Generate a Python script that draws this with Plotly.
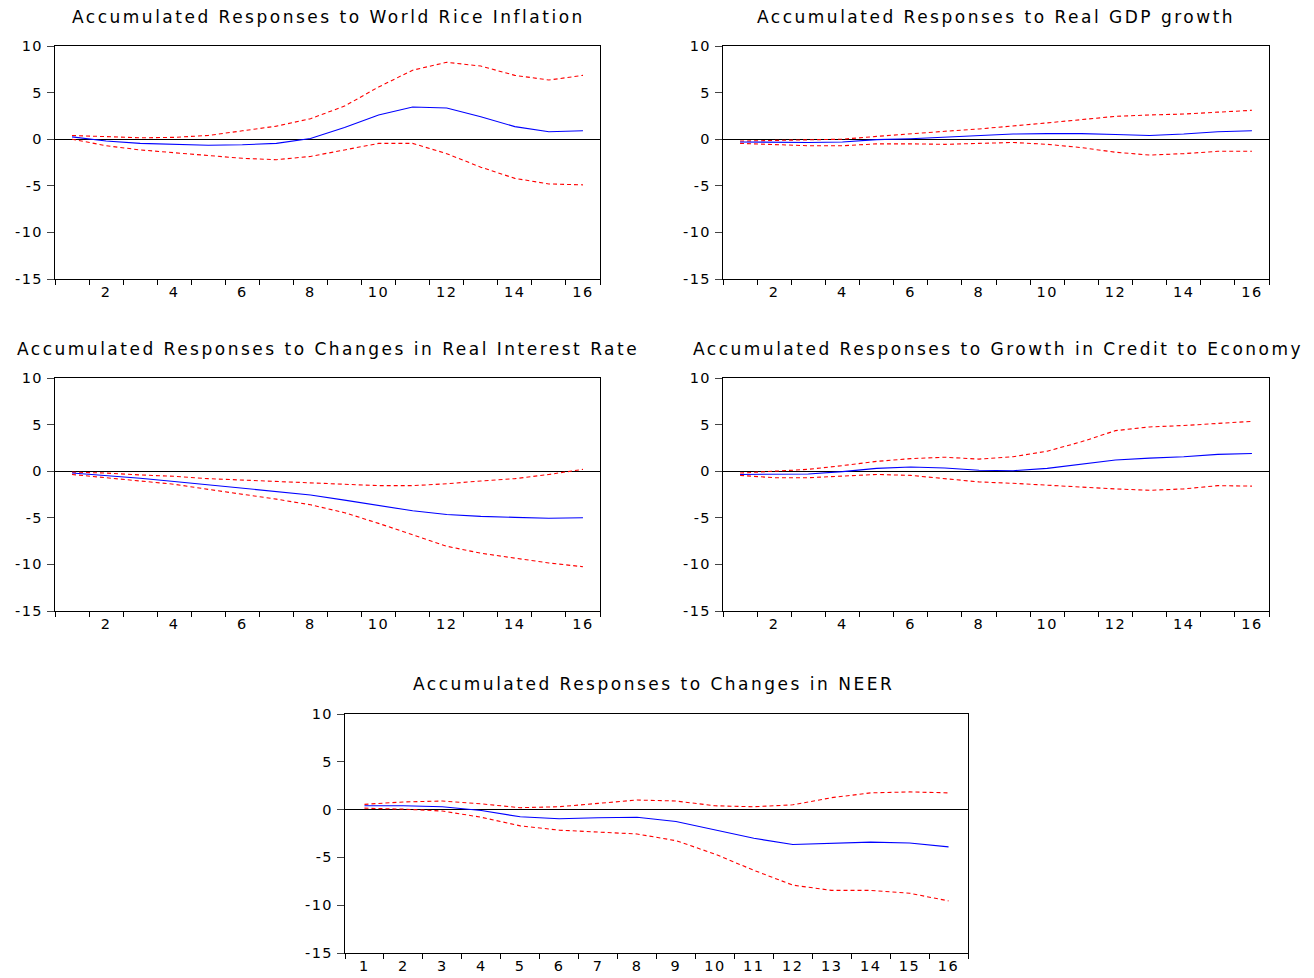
import plotly.graph_objects as go

periods = list(range(1, 17))

# World Rice Inflation
rice_resp = [0.25, -0.2, -0.45, -0.55, -0.65, -0.6, -0.45, 0.07, 1.25, 2.6, 3.45, 3.35, 2.4, 1.35, 0.8, 0.9]
rice_upper = [0.4, 0.25, 0.15, 0.2, 0.4, 0.9, 1.4, 2.2, 3.55, 5.6, 7.4, 8.25, 7.85, 6.85, 6.35, 6.85]
rice_lower = [0.0, -0.7, -1.15, -1.45, -1.8, -2.05, -2.2, -1.85, -1.15, -0.45, -0.45, -1.55, -3.0, -4.2, -4.8, -4.9]

# Real GDP growth
gdp_resp = [-0.3, -0.35, -0.35, -0.3, -0.05, 0.05, 0.2, 0.35, 0.55, 0.6, 0.6, 0.5, 0.4, 0.55, 0.8, 0.9]
gdp_upper = [-0.2, -0.15, -0.1, 0.0, 0.3, 0.6, 0.85, 1.1, 1.4, 1.75, 2.1, 2.45, 2.6, 2.7, 2.9, 3.1]
gdp_lower = [-0.45, -0.6, -0.7, -0.7, -0.5, -0.5, -0.55, -0.45, -0.35, -0.55, -0.9, -1.4, -1.7, -1.55, -1.3, -1.3]

# Changes in Real Interest Rate
rate_resp = [-0.2, -0.45, -0.75, -1.1, -1.45, -1.8, -2.15, -2.55, -3.1, -3.65, -4.25, -4.65, -4.85, -4.95, -5.05, -5.0]
rate_upper = [-0.1, -0.2, -0.4, -0.55, -0.8, -0.95, -1.1, -1.25, -1.4, -1.55, -1.55, -1.35, -1.05, -0.8, -0.35, 0.2]
rate_lower = [-0.35, -0.7, -1.05, -1.4, -1.95, -2.45, -3.0, -3.6, -4.45, -5.6, -6.85, -8.05, -8.8, -9.35, -9.85, -10.25]

# Growth in Credit to Economy
credit_resp = [-0.35, -0.35, -0.3, -0.05, 0.3, 0.45, 0.35, 0.1, 0.05, 0.3, 0.75, 1.2, 1.4, 1.55, 1.8, 1.9]
credit_upper = [-0.2, 0.0, 0.2, 0.6, 1.05, 1.35, 1.5, 1.3, 1.55, 2.15, 3.15, 4.35, 4.75, 4.9, 5.1, 5.35]
credit_lower = [-0.45, -0.7, -0.7, -0.55, -0.35, -0.45, -0.8, -1.15, -1.3, -1.5, -1.75, -1.9, -2.05, -1.9, -1.55, -1.6]

# Changes in NEER
neer_resp = [0.4, 0.4, 0.3, -0.1, -0.75, -0.95, -0.85, -0.8, -1.25, -2.1, -3.0, -3.65, -3.55, -3.4, -3.5, -3.9]
neer_upper = [0.55, 0.8, 0.9, 0.6, 0.2, 0.3, 0.65, 1.0, 0.9, 0.4, 0.3, 0.5, 1.25, 1.75, 1.85, 1.75]
neer_lower = [0.15, 0.05, -0.15, -0.8, -1.7, -2.15, -2.35, -2.55, -3.25, -4.65, -6.35, -7.9, -8.45, -8.45, -8.75, -9.55]

titles = [
    "Accumulated Responses to World Rice Inflation",
    "Accumulated Responses to Real GDP growth",
    "Accumulated Responses to Changes in Real Interest Rate",
    "Accumulated Responses to Growth in Credit to Economy",
    "Accumulated Responses to Changes in NEER",
]
y_ticks = [-15, -10, -5, 0, 5, 10]
even_labels = [2, 4, 6, 8, 10, 12, 14, 16]
all_labels = periods

W, H = 1314, 978
OFF = 8  # page body margin of the html page
# layout boxes in page pixels: (left, right, top, bottom), title left x, title center y
panels = [
    (rice_resp, rice_upper, rice_lower, (55, 600, 46, 279), (70, 17), even_labels),
    (gdp_resp, gdp_upper, gdp_lower, (723, 1269, 46, 279), (755, 17), even_labels),
    (rate_resp, rate_upper, rate_lower, (55, 600, 378, 611), (15, 349), even_labels),
    (credit_resp, credit_upper, credit_lower, (723, 1269, 378, 611), (691, 349), even_labels),
    (neer_resp, neer_upper, neer_lower, (345, 968, 714, 953), (411, 684), all_labels),
]

FONT = "DejaVu Sans, Verdana, sans-serif"


def fx(x):
    return (x - OFF) / W


def fy(y):
    return 1 - (y - OFF) / H


def spaced(s, px):
    return '<span style="letter-spacing:%spx">%s</span>' % (px, s)


fig = go.Figure()
annotations = []
layout = {}
for i, (resp, up, lo, box, tpos, labels) in enumerate(panels, start=1):
    xa = "x" if i == 1 else "x%d" % i
    ya = "y" if i == 1 else "y%d" % i
    for vals, color, dash in ((up, "#FF0000", "dash"), (lo, "#FF0000", "dash"), (resp, "#0000FF", "solid")):
        fig.add_trace(go.Scatter(
            x=periods, y=vals, mode="lines", xaxis=xa, yaxis=ya,
            line=dict(color=color, width=1.1, dash="4px,3px" if dash == "dash" else "solid"),
            showlegend=False, hoverinfo="skip",
        ))
    l, r, t, b = box
    xkey = "xaxis" if i == 1 else "xaxis%d" % i
    ykey = "yaxis" if i == 1 else "yaxis%d" % i
    layout[xkey] = dict(
        domain=[fx(l), fx(r)], anchor=ya, range=[0.5, 16.5], automargin=False,
        tickmode="array", tickvals=labels, ticktext=[spaced(str(v), 1.5) for v in labels],
        ticks="", ticklen=7, showgrid=False, zeroline=False,
        showline=True, mirror=True, linecolor="black", linewidth=1,
        tickfont=dict(family=FONT, size=14.5, color="black"),
        minor=dict(tickvals=[p - 0.5 for p in periods] + [16.5], ticks="outside",
                   ticklen=5, tickcolor="black", tickwidth=1, showgrid=False),
    )
    layout[ykey] = dict(
        domain=[fy(b), fy(t)], anchor=xa, range=[-15, 10], automargin=False,
        tickmode="array", tickvals=y_ticks, ticktext=[spaced(str(v), 1.5) for v in y_ticks],
        ticks="outside", ticklen=7, tickcolor="#444", showgrid=False,
        ticklabelstandoff=1,
        zeroline=True, zerolinecolor="black", zerolinewidth=1,
        showline=True, mirror=True, linecolor="black", linewidth=1,
        tickfont=dict(family=FONT, size=14.5, color="black"),
    )
    annotations.append(dict(
        text=spaced(titles[i - 1], 2.5), xref="paper", yref="paper",
        x=fx(tpos[0]), y=fy(tpos[1]), xanchor="left", yanchor="middle",
        showarrow=False, font=dict(family=FONT, size=17, color="black"),
    ))

fig.update_layout(
    width=W, height=H, margin=dict(l=0, r=0, t=0, b=0, autoexpand=False),
    paper_bgcolor="white", plot_bgcolor="white",
    annotations=annotations, **layout,
)
fig.write_html("out.html")
